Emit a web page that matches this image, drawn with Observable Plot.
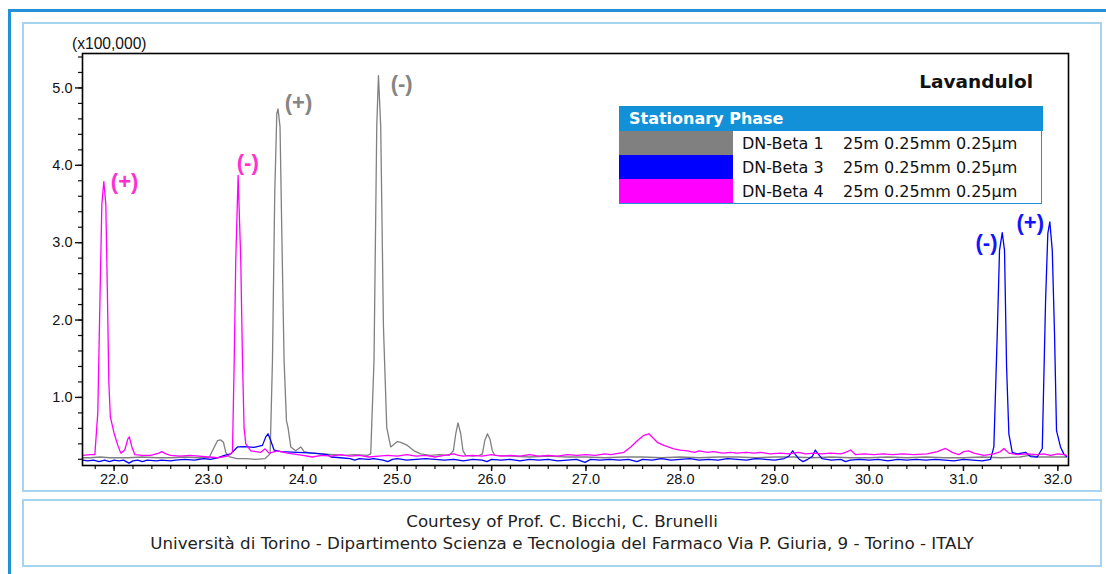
<!DOCTYPE html>
<html><head><meta charset="utf-8">
<script src="https://cdn.jsdelivr.net/npm/d3@7"></script>
<script src="https://cdn.jsdelivr.net/npm/@observablehq/plot@0.6"></script>
<style>
body{margin:0;background:#fff;}
#wrap{position:relative;width:1106px;height:574px;overflow:hidden;background:#fff;font-family:"DejaVu Sans",sans-serif;}
#chart{position:absolute;left:0;top:0;}
.outer{position:absolute;left:8px;top:9px;width:1130px;height:600px;border:3px solid #2690d6;box-sizing:border-box;pointer-events:none;}
.inner{position:absolute;left:22px;top:22px;width:1080px;height:470px;border:2px solid #a6d3ee;box-sizing:border-box;pointer-events:none;}
.caption{position:absolute;left:22px;top:499px;width:1080px;height:68px;border:2px solid #a6d3ee;box-sizing:border-box;display:flex;flex-direction:column;justify-content:center;align-items:center;font-size:16.7px;line-height:22px;color:#222;padding-bottom:2px;}
.ylab{position:absolute;left:72px;top:35px;font-family:"Liberation Sans",Arial,sans-serif;font-size:15.6px;color:#111;}
.title{position:absolute;right:73px;top:71px;font-weight:bold;font-size:18.5px;color:#111;}
.legend{position:absolute;left:619px;top:106px;width:424px;}
.lhead{height:25px;background:#1290d8;color:#fff;font-weight:bold;font-size:16px;line-height:25px;padding-left:10px;box-sizing:border-box;}
.lbody{border:1px solid #2690d6;border-top:none;box-sizing:border-box;width:423px;}
.lrow{display:flex;height:24px;align-items:center;font-size:16px;color:#111;}
.sw{width:114px;height:24px;margin-left:-1px;}
.c1{margin-left:9px;width:101px;}
</style></head><body>
<div id="wrap">
  <div id="chart"></div>
  <div class="outer"></div>
  <div class="inner"></div>
  <div class="ylab">(x100,000)</div>
  <div class="title" id="title"></div>
  <div class="legend" id="legend"></div>
  <div class="caption" id="caption"></div>
</div>
<script>
// ---- data ----
const chartTitle = "Lavandulol";
const legendTitle = "Stationary Phase";
const seriesNames = ["DN-Beta 1", "DN-Beta 3", "DN-Beta 4"];
const seriesSpecs = ["25m 0.25mm 0.25µm", "25m 0.25mm 0.25µm", "25m 0.25mm 0.25µm"];
const seriesColors = ["#808080", "#0000ff", "#ff00ff"];
const labelColors = ["#858585", "#1414ff", "#ff30cf"];
const captionLines = ["Courtesy of Prof. C. Bicchi, C. Brunelli",
  "Università di Torino - Dipartimento Scienza e Tecnologia del Farmaco Via P. Giuria, 9 - Torino - ITALY"];

const xMajor = [22, 23, 24, 25, 26, 27, 28, 29, 30, 31, 32];
const yMajor = [1, 2, 3, 4, 5];
const xDomain = [21.665, 32.113];
const yDomain = [0.12, 5.445];

// retention time (min), intensity (x100,000)
const beta1 = [[21.668,.22],[21.75,.22],[21.85,.23],[21.95,.22],[22.05,.22],[22.15,.22],[22.3,.23],[22.45,.22],[22.6,.22],[22.75,.23],[22.9,.22],[23.006,.22],[23.042,.31],[23.095,.44],[23.13,.45],[23.159,.42],[23.183,.29],[23.218,.235],[23.3,.21],[23.4,.21],[23.5,.2],[23.6,.21],[23.653,.27],[23.678,1.48],[23.702,3.63],[23.724,4.67],[23.737,4.73],[23.758,4.5],[23.776,3.2],[23.801,1.48],[23.826,.7],[23.843,.61],[23.872,.36],[23.925,.31],[23.978,.36],[24.013,.3],[24.084,.28],[24.2,.27],[24.331,.26],[24.45,.25],[24.55,.26],[24.684,.25],[24.719,.27],[24.754,1.48],[24.783,4.5],[24.801,5.16],[24.825,4.5],[24.854,1.91],[24.889,.61],[24.931,.36],[25.002,.43],[25.037,.42],[25.108,.38],[25.178,.31],[25.249,.27],[25.35,.25],[25.45,.26],[25.55,.25],[25.595,.31],[25.62,.53],[25.644,.67],[25.673,.53],[25.697,.31],[25.726,.25],[25.8,.24],[25.87,.25],[25.903,.27],[25.927,.44],[25.956,.53],[25.983,.46],[26.008,.31],[26.033,.25],[26.2,.24],[26.4,.23],[26.6,.24],[26.8,.23],[27.0,.23],[27.2,.22],[27.4,.23],[27.6,.23],[27.8,.22],[28.0,.23],[28.2,.22],[28.4,.23],[28.6,.23],[28.8,.22],[29.0,.23],[29.2,.23],[29.4,.22],[29.6,.23],[29.8,.22],[30.0,.22],[30.2,.23],[30.4,.22],[30.6,.23],[30.8,.22],[31.0,.22],[31.2,.23],[31.4,.22],[31.6,.23],[31.7,.25],[31.8,.23],[32.0,.23],[32.09,.23]];

const beta3 = [[21.668,.19],[21.72,.18],[21.78,.19],[21.84,.17],[21.9,.19],[21.95,.17],[22.0,.19],[22.05,.18],[22.1,.19],[22.157,.15],[22.2,.18],[22.25,.19],[22.3,.17],[22.35,.19],[22.45,.18],[22.5,.19],[22.6,.18],[22.65,.19],[22.75,.2],[22.85,.19],[22.95,.21],[23.02,.2],[23.095,.22],[23.17,.25],[23.236,.27],[23.307,.36],[23.377,.365],[23.483,.355],[23.572,.38],[23.607,.49],[23.631,.53],[23.66,.44],[23.695,.32],[23.766,.3],[23.943,.29],[24.119,.28],[24.261,.26],[24.3,.23],[24.4,.22],[24.5,.21],[24.55,.19],[24.6,.21],[24.7,.2],[24.75,.21],[24.85,.19],[24.9,.17],[24.95,.2],[25.0,.21],[25.1,.19],[25.2,.2],[25.3,.21],[25.4,.2],[25.5,.19],[25.6,.2],[25.7,.18],[25.8,.2],[25.9,.19],[25.95,.17],[26.0,.2],[26.1,.19],[26.2,.2],[26.3,.18],[26.4,.2],[26.5,.19],[26.6,.2],[26.7,.18],[26.8,.19],[26.9,.2],[26.99,.16],[27.05,.2],[27.15,.19],[27.25,.2],[27.35,.19],[27.45,.2],[27.54,.17],[27.6,.2],[27.7,.19],[27.8,.21],[27.9,.19],[28.0,.2],[28.1,.21],[28.2,.19],[28.3,.2],[28.4,.19],[28.5,.21],[28.6,.2],[28.7,.19],[28.8,.21],[28.9,.2],[29.0,.19],[29.1,.21],[29.15,.24],[29.19,.31],[29.22,.26],[29.26,.2],[29.3,.17],[29.35,.2],[29.4,.24],[29.43,.32],[29.46,.27],[29.5,.21],[29.6,.19],[29.7,.2],[29.75,.17],[29.8,.19],[29.9,.2],[30.0,.19],[30.1,.2],[30.2,.18],[30.3,.2],[30.4,.19],[30.5,.2],[30.6,.19],[30.7,.2],[30.8,.19],[30.9,.18],[31.0,.2],[31.1,.19],[31.2,.18],[31.287,.2],[31.322,.36],[31.358,1.82],[31.382,2.9],[31.411,3.13],[31.435,2.9],[31.457,1.39],[31.481,.53],[31.517,.29],[31.57,.27],[31.658,.29],[31.711,.235],[31.782,.23],[31.835,.34],[31.87,2.25],[31.894,3.12],[31.915,3.27],[31.941,2.9],[31.965,1.82],[31.986,.57],[32.028,.36],[32.063,.27],[32.091,.235]];

const beta4 = [[21.668,.25],[21.75,.26],[21.796,.26],[21.827,.8],[21.849,2.2],[21.87,3.5],[21.891,3.79],[21.912,3.5],[21.928,2.4],[21.944,1.2],[21.96,.75],[21.997,.55],[22.039,.38],[22.071,.28],[22.113,.32],[22.145,.46],[22.161,.49],[22.188,.36],[22.22,.26],[22.3,.25],[22.389,.25],[22.474,.28],[22.505,.3],[22.548,.27],[22.6,.25],[22.7,.24],[22.8,.25],[22.9,.24],[23.0,.23],[23.1,.22],[23.2,.24],[23.254,.29],[23.273,1.5],[23.289,2.77],[23.314,3.87],[23.342,2.77],[23.36,1.5],[23.377,.61],[23.395,.4],[23.448,.31],[23.554,.29],[23.6,.335],[23.642,.28],[23.731,.31],[23.837,.28],[24.0,.25],[24.1,.23],[24.2,.25],[24.3,.24],[24.4,.26],[24.5,.24],[24.6,.25],[24.7,.23],[24.8,.24],[24.9,.25],[25.0,.24],[25.1,.26],[25.2,.24],[25.3,.25],[25.4,.23],[25.5,.25],[25.6,.27],[25.65,.25],[25.7,.24],[25.8,.25],[25.9,.24],[26.0,.26],[26.1,.24],[26.2,.25],[26.3,.24],[26.4,.26],[26.5,.24],[26.6,.25],[26.7,.24],[26.8,.26],[26.9,.25],[27.0,.26],[27.1,.25],[27.2,.27],[27.262,.26],[27.403,.29],[27.474,.36],[27.544,.44],[27.614,.51],[27.667,.53],[27.703,.485],[27.756,.42],[27.826,.38],[27.932,.335],[28.0,.32],[28.074,.31],[28.15,.29],[28.2,.31],[28.286,.29],[28.35,.3],[28.45,.28],[28.533,.29],[28.6,.28],[28.7,.29],[28.78,.28],[28.85,.29],[28.95,.27],[29.063,.28],[29.15,.27],[29.25,.29],[29.33,.27],[29.415,.28],[29.5,.27],[29.592,.28],[29.7,.27],[29.75,.29],[29.804,.32],[29.857,.26],[29.95,.27],[30.05,.26],[30.15,.27],[30.25,.26],[30.35,.27],[30.475,.26],[30.616,.27],[30.722,.3],[30.81,.34],[30.881,.29],[30.951,.26],[31.004,.3],[31.057,.31],[31.11,.28],[31.216,.25],[31.322,.27],[31.393,.3],[31.428,.34],[31.481,.28],[31.57,.26],[31.68,.27],[31.782,.26],[31.85,.27],[31.923,.25],[32.0,.27],[32.064,.26],[32.09,.25]];

// enantiomer peak labels
const peakLabels = ["(+)", "(-)", "(+)", "(-)", "(-)", "(+)"];
const peakTimes = [21.965, 23.30, 23.808, 24.93, 31.128, 31.562];
const peakValues = [3.79, 4.03, 4.80, 5.05, 3.00, 3.26];
const peakSeries = ["DN-Beta 4", "DN-Beta 4", "DN-Beta 1", "DN-Beta 1", "DN-Beta 3", "DN-Beta 3"];

// ---- build ----
const traces = [beta1, beta3, beta4];
const rows = [];
traces.forEach((tr, i) => tr.forEach(([t, v]) => rows.push({series: seriesNames[i], t, v})));
const labels = peakLabels.map((s, i) => ({text: s, t: peakTimes[i], v: peakValues[i],
  color: labelColors[seriesNames.indexOf(peakSeries[i])]}));
const xMinor = d3.range(21.8, 32.1, 0.2);
const yMinor = d3.range(0.2, 5.45, 0.2);

const chart = Plot.plot({
  width: 1106, height: 492,
  marginLeft: 82, marginRight: 38, marginTop: 53, marginBottom: 27,
  style: {background: "transparent", fontFamily: "'Liberation Sans', Arial, sans-serif", fontSize: "14.5px", color: "#111"},
  x: {domain: xDomain},
  y: {domain: yDomain},
  color: {domain: seriesNames, range: seriesColors},
  marks: [
    Plot.axisX({ticks: xMinor, tickSize: 4, text: null, label: null, strokeWidth: 1.2}),
    Plot.axisX({ticks: xMajor, tickSize: 6, tickPadding: 2, tickFormat: d3.format(".1f"), label: null, strokeWidth: 1.4}),
    Plot.axisY({ticks: yMinor, tickSize: 4, text: null, label: null, strokeWidth: 1.2}),
    Plot.axisY({ticks: yMajor, tickSize: 7, tickPadding: 3, tickFormat: d3.format(".1f"), label: null, strokeWidth: 1.4}),
    Plot.line(rows, {x: "t", y: "v", z: "series", stroke: "series", strokeWidth: 1.3, clip: true}),
    Plot.text(labels, {x: "t", y: "v", text: "text", fill: "color", textAnchor: "start", lineAnchor: "middle",
      fontSize: 22, fontWeight: "bold", fontFamily: "'Liberation Sans', Arial, sans-serif"}),
    Plot.frame({stroke: "#000", strokeWidth: 1.6})
  ]
});
document.getElementById("chart").appendChild(chart);

document.getElementById("title").textContent = chartTitle;
const lg = document.getElementById("legend");
const head = document.createElement("div"); head.className = "lhead"; head.textContent = legendTitle; lg.appendChild(head);
const body = document.createElement("div"); body.className = "lbody"; lg.appendChild(body);
seriesNames.forEach((n, i) => {
  const r = document.createElement("div"); r.className = "lrow";
  const sw = document.createElement("div"); sw.className = "sw"; sw.style.background = seriesColors[i];
  const c1 = document.createElement("div"); c1.className = "c1"; c1.textContent = n;
  const c2 = document.createElement("div"); c2.textContent = seriesSpecs[i];
  r.append(sw, c1, c2); body.appendChild(r);
});
const cap = document.getElementById("caption");
captionLines.forEach(l => { const d = document.createElement("div"); d.textContent = l; cap.appendChild(d); });
</script>
</body></html>
